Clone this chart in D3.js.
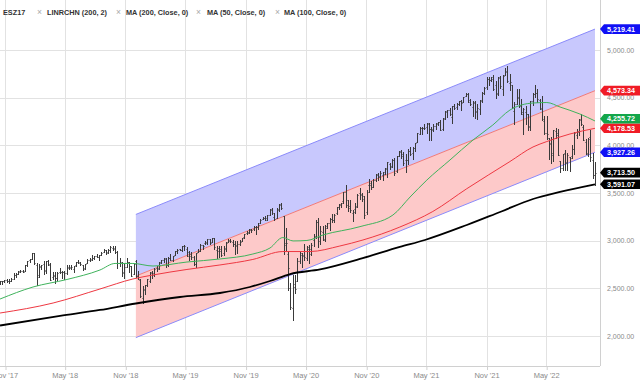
<!DOCTYPE html>
<html><head><meta charset="utf-8">
<script src="https://cdn.jsdelivr.net/npm/d3@7"></script>
<style>html,body{margin:0;padding:0;background:#fff;}svg{display:block;font-family:"Liberation Sans",Arial,sans-serif;}</style>
</head><body><svg id="chart" width="640" height="388"></svg>
<script>
// ---------- DATA ----------
const firstWeek = "2017-10-16"; // weekly bars, one per Monday
const barOpen = [
2557,2578,2575,2588,2580,2580,2602,2645,2655,2680,2684,
2684,2745,2798,2810,2867,2741,2636,2722,2757,2682,2790,2741,2619,2633,2611,2670,2675,2670,2663,2718,2725,2705,2741,2780,2765,2742,2704,2768,2798,2810,2819,2842,2827,2853,2885,2897,2880,2897,2925,2926,2879,2764,2773,2670,2726,2773,2730,2649,2790,2630,2591,2401,2498,
2535,2582,2657,2644,2713,2712,2769,2796,2814,2747,2823,2796,2848,2888,2908,2898,2941,2908,2840,2841,2830,2751,2885,2889,2952,2971,2980,3017,2986,3024,2898,2894,2913,2866,2910,2988,3001,2984,2967,2944,2965,2996,3035,3078,3081,3117,3118,3143,3141,3183,3227,3240,
3218,3271,3321,3248,3235,3319,3378,3257,2974,2863,2508,2290,2514,2578,2782,2845,2854,2815,2915,2913,3005,3038,3199,2994,3094,3018,3155,3187,3224,3219,3289,3356,3380,3419,3509,3370,3364,3285,3334,3367,3500,3493,3441,3296,3584,3600,3566,3634,3694,3675,3694,3723,
3764,3803,3781,3851,3731,3892,3939,3885,3842,3844,3942,3916,3969,4034,4124,4179,4185,4192,4228,4169,4170,4207,4229,4248,4174,4284,4356,4372,4296,4410,4406,4437,4462,4458,4514,4535,4474,4402,4442,4348,4386,4464,4553,4610,4701,4689,4712,4629,4548,4711,4588,4733,
4778,4655,4632,4357,4431,4505,4412,4332,4354,4327,4188,4462,4541,4547,4474,4385,4256,4130,4082,4013,3920,4152,4134,3838,3765,3920,3815,3880,3883,3965,4112,4155,4270,4195,4034,3910,4084,3849,3690];
const barHigh = [
2575,2582,2588,2598,2594,2605,2658,2665,2680,2695,2694,
2743,2787,2810,2873,2870,2763,2754,2747,2790,2787,2802,2761,2674,2672,2675,2718,2683,2683,2742,2743,2742,2736,2779,2801,2774,2746,2760,2804,2814,2848,2841,2863,2853,2877,2916,2902,2908,2941,2940,2940,2894,2817,2779,2756,2815,2775,2734,2760,2800,2685,2601,2520,2538,
2598,2675,2681,2716,2738,2776,2798,2814,2816,2830,2861,2836,2893,2910,2916,2940,2954,2932,2892,2876,2840,2875,2910,2964,2959,2996,3017,3018,3028,3029,2944,2943,2940,2940,2985,3021,3022,3002,2992,2993,3008,3027,3066,3097,3120,3127,3154,3150,3182,3226,3248,3258,
3268,3330,3338,3287,3347,3385,3393,3259,3136,2882,2553,2637,2641,2818,2879,2870,2965,2945,2955,2980,3068,3212,3233,3155,3154,3165,3187,3236,3280,3279,3352,3387,3399,3509,3588,3430,3428,3320,3392,3486,3550,3502,3466,3529,3645,3628,3644,3699,3713,3727,3723,3760,
3827,3815,3860,3870,3887,3937,3950,3928,3914,3960,3983,3978,4020,4130,4191,4195,4219,4238,4238,4188,4219,4234,4249,4262,4286,4356,4372,4393,4415,4429,4442,4469,4480,4509,4545,4549,4486,4465,4466,4429,4475,4560,4608,4718,4714,4718,4743,4672,4713,4731,4740,4808,
4830,4749,4632,4454,4595,4589,4490,4395,4416,4327,4465,4546,4637,4594,4481,4513,4308,4307,4082,4090,4159,4178,4168,3838,3913,3946,3919,3882,3999,4140,4167,4280,4325,4218,4062,4076,4160,3920,3830];
const barLow = [
2547,2544,2566,2566,2557,2578,2598,2624,2647,2673,2673,
2682,2738,2780,2808,2759,2532,2622,2700,2647,2664,2741,2585,2594,2553,2586,2660,2612,2594,2652,2702,2707,2676,2735,2765,2744,2691,2698,2766,2789,2802,2804,2829,2802,2850,2884,2864,2874,2885,2905,2874,2710,2737,2628,2604,2722,2670,2631,2648,2621,2593,2409,2346,2443,
2525,2571,2612,2631,2681,2704,2766,2775,2723,2739,2800,2785,2848,2873,2898,2896,2901,2836,2800,2805,2750,2728,2876,2887,2912,2965,2968,2970,2984,2914,2822,2826,2834,2853,2891,2985,2988,2945,2856,2874,2952,2992,3023,3066,3078,3091,3113,3070,3124,3183,3223,3212,
3214,3264,3281,3214,3235,3316,3328,2855,2901,2478,2280,2165,2447,2578,2761,2727,2797,2797,2766,2853,2939,3031,2936,2965,3004,2999,3128,3114,3201,3200,3284,3328,3357,3392,3349,3310,3301,3209,3295,3354,3441,3417,3233,3280,3511,3543,3567,3622,3633,3648,3636,3698,
3663,3750,3771,3694,3725,3884,3866,3789,3723,3805,3894,3853,3939,4034,4117,4118,4176,4128,4057,4061,4155,4168,4214,4165,4165,4278,4300,4319,4233,4379,4385,4423,4367,4450,4513,4456,4422,4305,4288,4278,4329,4459,4537,4595,4630,4672,4585,4495,4532,4600,4532,4733,
4662,4582,4395,4222,4432,4401,4327,4114,4223,4157,4162,4424,4507,4451,4381,4270,4124,4062,3859,3811,3838,4074,3900,3720,3740,3738,3742,3730,3871,3911,4080,4112,4218,4057,3907,3887,3838,3660,3588];
const barClose = [
2575,2581,2587,2582,2579,2602,2642,2652,2675,2683,2674,
2743,2786,2810,2873,2762,2620,2732,2747,2691,2786,2752,2588,2641,2604,2656,2670,2670,2663,2728,2713,2721,2735,2779,2780,2755,2718,2760,2801,2802,2819,2840,2833,2850,2875,2902,2872,2905,2930,2914,2885,2767,2768,2658,2723,2781,2736,2633,2760,2633,2600,2417,2486,2532,
2596,2671,2665,2707,2708,2776,2793,2804,2743,2822,2800,2834,2893,2907,2905,2940,2946,2881,2860,2826,2752,2873,2887,2950,2942,2990,3014,2977,3026,2932,2919,2889,2847,2926,2979,3007,2992,2962,2952,2970,2986,3023,3067,3093,3120,3110,3141,3146,3169,3221,3240,3235,
3265,3330,3295,3226,3328,3380,3338,2954,2972,2711,2305,2541,2489,2790,2875,2837,2831,2930,2864,2955,3044,3194,3041,3098,3009,3130,3185,3225,3216,3271,3351,3373,3397,3508,3427,3341,3319,3298,3348,3477,3484,3465,3270,3510,3585,3558,3638,3699,3663,3709,3703,3756,
3825,3768,3841,3714,3887,3934,3907,3811,3842,3943,3913,3975,4020,4129,4185,4180,4181,4233,4174,4156,4204,4230,4247,4166,4281,4352,4370,4327,4412,4395,4437,4468,4442,4509,4535,4459,4433,4455,4357,4391,4471,4545,4605,4697,4683,4698,4595,4538,4712,4620,4725,4766,
4677,4663,4398,4432,4500,4418,4349,4385,4329,4204,4463,4543,4545,4488,4392,4272,4132,4123,4023,3901,4158,4109,3901,3765,3912,3825,3899,3863,3962,4130,4145,4280,4228,4058,3924,4067,3873,3693,3713.5];

// moving averages
const ma200Dates  = ["2017-10-17","2018-04-17","2018-08-16","2018-12-03","2019-04-16","2019-08-15","2019-11-14","2020-01-14","2020-03-15","2020-06-14","2020-10-13","2021-02-11","2021-04-28","2021-09-02","2021-12-12","2022-03-22","2022-06-12","2022-09-26"];
const ma200Values = [2110,2210,2273,2341,2409,2451,2514,2577,2650,2698,2808,2934,3007,3164,3301,3437,3511,3591.07];
const ma50Dates   = ["2017-10-17","2018-01-25","2018-05-08","2018-08-16","2018-10-01","2018-11-24","2019-01-24","2019-05-07","2019-08-15","2019-11-23","2020-01-14","2020-02-22","2020-03-24","2020-05-05","2020-06-23","2020-10-13","2021-01-21","2021-03-14","2021-05-04","2021-07-13","2021-09-21","2021-11-20","2022-01-11","2022-03-22","2022-05-03","2022-06-12","2022-08-11","2022-09-26"];
const ma50Values  = [2388,2514,2593,2692,2761,2761,2734,2776,2808,2860,2923,3033,2997,3002,3060,3147,3269,3458,3636,3846,4056,4213,4370,4444,4449,4402,4329,4255.72];
const ma100Dates  = ["2017-10-17","2018-03-27","2018-08-16","2018-11-24","2019-01-24","2019-05-07","2019-08-15","2019-11-23","2020-02-22","2020-05-14","2020-08-13","2020-10-22","2021-02-11","2021-05-22","2021-09-02","2022-01-11","2022-03-22","2022-05-03","2022-07-12","2022-09-26"];
const ma100Values = [2241,2346,2493,2598,2640,2698,2745,2803,2886,2886,2944,3007,3143,3306,3545,3830,3983,4040,4119,4178.53];

// linear regression channel (200 bars, 2 dev)
const channelDates = ["2018-12-03","2022-09-26"];
const channelMid = [2629, 4573.34];
const channelDev = 646.07;

const xTickDates  = ["2017-11-01","2018-05-01","2018-11-01","2019-05-01","2019-11-01","2020-05-01","2020-11-01","2021-05-01","2021-11-01","2022-05-01"];
const xTickLabels = ["Nov '17","May '18","Nov '18","May '19","Nov '19","May '20","Nov '20","May '21","Nov '21","May '22"];
const yTicks = [2000,2500,3000,3500,4000,4500,5000];
const legendLabels = ["ESZ17","LINRCHN (200, 2)","MA (200, Close, 0)","MA (50, Close, 0)","MA (100, Close, 0)"];
const tagValues = [5219.41, 4573.34, 3927.26, 4255.72, 4178.53, 3713.50, 3591.07];
const tagKinds  = ["upper","mid","lower","ma50","ma100","last","ma200"];

// ---------- STYLE / LAYOUT ----------
const C = {
  grid:"#e2e2e2", axis:"#d0d0d0", tickText:"#8a8a8a", bar:"#3a3a3a",
  blueFill:"#c8c8fd", pinkFill:"#fdc9c9", edge:"#8a8afa", midLine:"#f07a7a",
  ma50:"#3fb35c", ma100:"#ee3842", ma200:"#000000"
};
const tagColor = {upper:"#1010f5", mid:"#f01c26", lower:"#1010f5", ma50:"#13a64a", ma100:"#f01c26", last:"#000", ma200:"#000"};
const legendX = [3, 47, 126, 207, 284];
const legendCloseX = [37, 116, 196, 275];

const W = 640, H = 388, plotR = 600, plotB = 366;
const parse = d3.timeParse("%Y-%m-%d");
const svg = d3.select("#chart");

const x = d3.scaleTime().domain([parse("2017-11-01"), parse("2022-05-01")]).range([5, 546.2]);
const y = d3.scaleLinear().domain([2000, 5000]).range([336, 50]);

svg.append("defs").append("clipPath").attr("id","plot")
  .append("rect").attr("x",0).attr("y",0).attr("width",plotR).attr("height",plotB);

// grid
const grid = svg.append("g");
grid.selectAll("line.v").data(xTickDates).join("line")
  .attr("x1", d => Math.round(x(parse(d)))+0.5).attr("x2", d => Math.round(x(parse(d)))+0.5)
  .attr("y1", 0).attr("y2", plotB).attr("stroke", C.grid);
grid.selectAll("line.h").data(yTicks).join("line")
  .attr("x1", 0).attr("x2", plotR).attr("y1", d => Math.round(y(d))+0.5).attr("y2", d => Math.round(y(d))+0.5)
  .attr("stroke", C.grid);

const plot = svg.append("g").attr("clip-path","url(#plot)");

// channel
const cd = channelDates.map(parse);
const cx0 = x(cd[0]), cx1 = x(cd[1]);
const up = channelMid.map(v => v + channelDev), lo = channelMid.map(v => v - channelDev);
plot.append("path").attr("fill", C.blueFill)
  .attr("d", `M${cx0},${y(up[0])}L${cx1},${y(up[1])}L${cx1},${y(channelMid[1])}L${cx0},${y(channelMid[0])}Z`);
plot.append("path").attr("fill", C.pinkFill)
  .attr("d", `M${cx0},${y(channelMid[0])}L${cx1},${y(channelMid[1])}L${cx1},${y(lo[1])}L${cx0},${y(lo[0])}Z`);
const seg = (a,b,col) => plot.append("line").attr("x1",cx0).attr("x2",cx1).attr("y1",y(a)).attr("y2",y(b)).attr("stroke",col).attr("stroke-width",1);
seg(up[0],up[1],C.edge); seg(lo[0],lo[1],C.edge); seg(channelMid[0],channelMid[1],C.midLine);

// bars
const start = parse(firstWeek);
const bars = barOpen.map((o,i) => ({d: d3.timeMonday.offset(start, i), o, h: barHigh[i], l: barLow[i], c: barClose[i]}));
const r = v => Math.round(v)+0.5;
plot.append("path").attr("fill","none").attr("stroke",C.bar).attr("stroke-width",1)
  .attr("d", bars.map(b => {
    const xi = Math.round(x(b.d)) + 0.5;
    return `M${xi},${Math.round(y(b.h))}V${Math.round(y(b.l))+1}M${xi-1},${r(y(b.o))}H${xi}M${xi},${r(y(b.c))}H${xi+1}`;
  }).join(""));

// moving averages
const line = d3.line().x(d => x(d[0])).y(d => y(d[1])).curve(d3.curveMonotoneX);
function drawMA(dates, vals, col, w){
  plot.append("path").attr("fill","none").attr("stroke",col).attr("stroke-width",w)
    .attr("d", line(dates.map((d,i) => [parse(d), vals[i]])));
}
drawMA(ma200Dates, ma200Values, C.ma200, 1.8);
drawMA(ma100Dates, ma100Values, C.ma100, 1);
drawMA(ma50Dates, ma50Values, C.ma50, 1);

// frame
svg.append("line").attr("x1",plotR+0.5).attr("x2",plotR+0.5).attr("y1",0).attr("y2",plotB).attr("stroke",C.axis);
svg.append("line").attr("x1",0).attr("x2",plotR).attr("y1",plotB+0.5).attr("y2",plotB+0.5).attr("stroke",C.axis);

// x axis
const xa = svg.append("g").attr("transform",`translate(0,${plotB})`)
  .call(d3.axisBottom(x).tickValues(xTickDates.map(parse)).tickFormat((d,i) => xTickLabels[i]).tickSize(4).tickPadding(3));
xa.select(".domain").remove();
xa.selectAll("line").attr("stroke",C.axis).attr("transform","translate(0.5,0)");
xa.selectAll("text").attr("fill",C.tickText).style("font-size","7.5px").style("font-family","'Liberation Sans',Arial,sans-serif");

// y axis (right)
const ya = svg.append("g").attr("transform",`translate(${plotR+6},0)`)
  .call(d3.axisRight(y).tickValues(yTicks).tickFormat(d3.format(",.2f")).tickSize(0).tickPadding(1));
ya.select(".domain").remove();
ya.selectAll("text").attr("fill",C.tickText).style("font-size","7px").style("font-family","'Liberation Sans',Arial,sans-serif");

// value tags (nudged apart so labels do not collide, as the library does)
const tagH = 9.6;
const tags = tagValues.map((v,i) => ({v, kind: tagKinds[i], cy: y(v)})).sort((a,b) => b.cy - a.cy);
for (let i = 1; i < tags.length; i++) {
  if (tags[i-1].cy - tags[i].cy < tagH) tags[i].cy = tags[i-1].cy - tagH;
}
tags.forEach(t => {
  const col = tagColor[t.kind];
  const cy = t.cy;
  svg.append("path").attr("fill",col)
    .attr("d",`M${plotR},${cy}L${plotR+4},${cy-tagH/2}H${W}V${cy+tagH/2}H${plotR+4}Z`);
  svg.append("text").attr("x",607).attr("y",cy).attr("dy","0.35em")
    .attr("fill","#fff").style("font-size","7.2px").style("font-weight","bold")
    .text(d3.format(",.2f")(t.v));
});

// legend
const lg = svg.append("g");
legendLabels.forEach((t,i) => {
  if (i > 0) lg.append("text").attr("x",legendCloseX[i-1]).attr("y",14.5).attr("fill","#a8a8a8").style("font-size","8.5px").text("\u00d7");
  lg.append("text").attr("x",legendX[i]).attr("y",14.5).attr("fill","#333")
    .style("font-size","7.3px").style("font-weight","bold").text(t);
});
</script></body></html>
